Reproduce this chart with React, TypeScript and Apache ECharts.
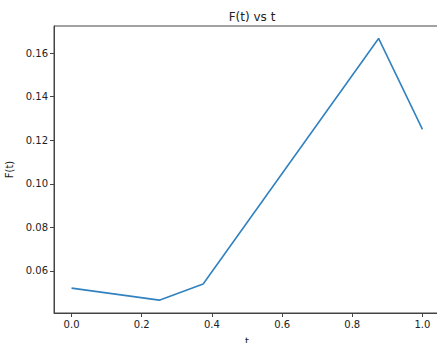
import React, { useEffect, useRef } from "react";
import * as echarts from "echarts";

const tValues = [0.0, 0.25, 0.375, 0.875, 1.0];
const fValues = [0.0521, 0.0466, 0.054, 0.1667, 0.125];
const xTicks = [0.0, 0.2, 0.4, 0.6, 0.8, 1.0];
const yTicks = [0.06, 0.08, 0.1, 0.12, 0.14, 0.16];

export default function App() {
  const ref = useRef<HTMLDivElement>(null);
  useEffect(() => {
    document.body.style.margin = "0";
    const chart = echarts.init(ref.current!, null, { renderer: "svg" });
    const font = "DejaVu Sans";
    chart.setOption({
      animation: false,
      backgroundColor: "#ffffff",
      title: {
        text: "F(t) vs t",
        left: 247,
        textAlign: "center",
        top: 6,
        textStyle: { fontFamily: font, fontSize: 12, fontWeight: "normal", color: "#222" },
      },
      grid: {
        left: 54,
        top: 26,
        right: -3,
        bottom: 30,
        show: true,
        borderColor: "#444",
        borderWidth: 1,
        containLabel: false,
        outerBoundsMode: "none",
      },
      xAxis: {
        type: "value",
        min: -0.05,
        max: 1.05,
        name: "t",
        nameLocation: "middle",
        nameGap: 23,
        nameTextStyle: { fontFamily: font, fontSize: 10, color: "#222" },
        axisLine: { show: true, onZero: false, lineStyle: { color: "#444" } },
        axisTick: { show: true, length: 4, lineStyle: { color: "#444" }, customValues: xTicks },
        splitLine: { show: false },
        axisLabel: {
          customValues: xTicks,
          formatter: (v: number) => v.toFixed(1),
          fontFamily: font,
          fontSize: 10,
          color: "#222",
          margin: 6,
        },
      },
      yAxis: {
        type: "value",
        min: 0.0407,
        max: 0.1724,
        name: "F(t)",
        nameLocation: "middle",
        nameRotate: 90,
        nameGap: 37,
        nameTextStyle: { fontFamily: font, fontSize: 10, color: "#222" },
        axisLine: { show: true, onZero: false, lineStyle: { color: "#444" } },
        axisTick: { show: true, length: 4, lineStyle: { color: "#444" }, customValues: yTicks },
        splitLine: { show: false },
        axisLabel: {
          customValues: yTicks,
          formatter: (v: number) => v.toFixed(2),
          fontFamily: font,
          fontSize: 10,
          color: "#222",
          margin: 6,
        },
      },
      series: [
        {
          type: "line",
          data: tValues.map((t, i) => [t, fValues[i]]),
          showSymbol: false,
          symbol: "none",
          lineStyle: { color: "#3182c0", width: 1.6 },
        },
      ],
    });
    return () => chart.dispose();
  }, []);
  return <div ref={ref} style={{ width: 437, height: 343 }} />;
}
